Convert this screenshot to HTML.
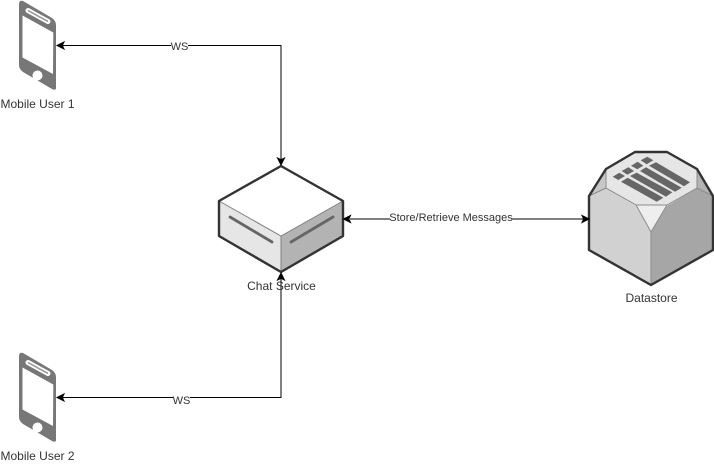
<!DOCTYPE html>
<html><head><meta charset="utf-8"><style>
html,body{margin:0;padding:0;background:#fff}
svg{display:block}
text{font-family:"Liberation Sans",sans-serif;font-size:12px;fill:#333}
</style></head><body>
<svg width="714" height="464" viewBox="0 0 714 464" xmlns="http://www.w3.org/2000/svg">
<defs>
<g id="phone">
<path d="M23 1 L52 18 Q56 21 56 25 L56 88 Q56 91 52 89 L23 72 Q19 69 19 65 L19 4 Q19 0 23 1Z" fill="#777"/>
<path d="M22.500 15.500 L53.300 32.500 L53 74 L22.500 57.500Z" fill="#fff"/>
<path d="M28 10.500 L48 21.500" stroke="#fff" stroke-width="5" stroke-linecap="round" fill="none"/>
<path d="M28.500 10.800 L47.500 21.200" stroke="#999" stroke-width="1.500" stroke-linecap="round" fill="none"/>
<circle cx="37.500" cy="75.500" r="5" fill="#fff"/>
</g>
</defs>

<!-- connectors -->
<path d="M63 45.500H281V159" fill="none" stroke="#000"/>
<path d="M281 45.500V159M281 279V397.500" fill="none" stroke="#000"/>
<path d="M63 397.500H281V279" fill="none" stroke="#000"/>
<path d="M350 219H583" fill="none" stroke="#000"/>

<!-- phones -->
<use href="#phone"/>
<use href="#phone" y="352"/>

<!-- server -->
<path d="M281 166L343 201V236L281 272L219 236V201Z" fill="#fff"/>
<path d="M219 201L281 236V272L219 236Z" fill="#e6e6e6"/>
<path d="M343 201L281 236V272L343 236Z" fill="#b3b3b3"/>
<path d="M219 201L281 236L343 201M281 236V272" fill="none" stroke="#808080" stroke-width="1"/>
<path d="M230 217L272 242M291 242L333 217" stroke="#666" stroke-width="2.800" stroke-linecap="round" fill="none"/>
<path d="M281 166L343 201V236L281 272L219 236V201Z" fill="none" stroke="#333" stroke-width="2.400" stroke-linejoin="round"/>

<!-- datastore -->
<path d="M606 169L635 152H667L697 169V188L667 205H636L606 188Z" fill="#e6e6e6"/>
<path d="M636 205H667L651 232Z" fill="#eee"/>
<path d="M589 196L606 169V188Z" fill="#c8c8c8"/>
<path d="M713 196L697 169V188Z" fill="#b3b3b3"/>
<path d="M589 196L606 188L636 206L651 232V285L589 250Z" fill="#d1d1d1"/>
<path d="M713 196L697 188L667 206L651 232V285L713 250Z" fill="#a6a6a6"/>
<path d="M606 169V188L636 205H667L697 188V169M636 205L651 232L667 205M651 232V285M589 196L606 188M713 196L697 188" fill="none" stroke="#8a8a8a" stroke-width="1"/>
<g fill="#666">
<path d="M612.700 176.700L619.300 172.700L625 176L618.300 180Z"/>
<path d="M621.700 171L628.300 167.300L634 171L627.300 174.700Z"/>
<path d="M631 165.700L637.700 161.700L643.300 165.700L637.300 169.300Z"/>
<path d="M640.700 160.300L647.300 156.700L653.300 160.300L646.700 164.300Z"/>
<path d="M621 181.700L627.700 177.700L663.300 197.700L656.700 201.700Z"/>
<path d="M630 176L636.700 172.700L672.300 192.300L666 196.700Z"/>
<path d="M640 171L646 167.300L681.700 187.700L675 191.700Z"/>
<path d="M649 165.700L656 162.300L690 182.300L684 186.300Z"/>
</g>
<path d="M589 196L606 169L635 152H667L697 169L713 196V250L651 285L589 250Z" fill="none" stroke="#333" stroke-width="2.400" stroke-linejoin="round"/>

<!-- arrowheads -->
<g fill="#000" stroke="#000">
<path d="M57 45.500L64 42L62.300 45.500L64 49Z"/>
<path d="M57 397.500L64 394L62.300 397.500L64 401Z"/>
<path d="M281 165L277.500 158L281 159.700L284.500 158Z"/>
<path d="M281 273L277.500 280L281 278.300L284.500 280Z"/>
<path d="M343.500 219L350.500 215.500L348.800 219L350.500 222.500Z"/>
<path d="M589 219L582 215.500L583.700 219L582 222.500Z"/>
</g>

<!-- labels -->
<rect x="171" y="40" width="17" height="11" fill="#fff"/>
<text x="179.500" y="50" text-anchor="middle" style="font-size:11px">WS</text>
<rect x="173" y="395" width="17" height="11" fill="#fff"/>
<text x="181.500" y="404" text-anchor="middle" style="font-size:11px">WS</text>
<rect x="390" y="212" width="122" height="11" fill="#fff"/>
<text x="451" y="221" text-anchor="middle" style="font-size:11px">Store/Retrieve Messages</text>
<text x="37.500" y="108" text-anchor="middle">Mobile User 1</text>
<text x="37.500" y="460" text-anchor="middle">Mobile User 2</text>
<text x="281.500" y="290" text-anchor="middle">Chat Service</text>
<text x="651.500" y="302" text-anchor="middle">Datastore</text>
</svg>
</body></html>
